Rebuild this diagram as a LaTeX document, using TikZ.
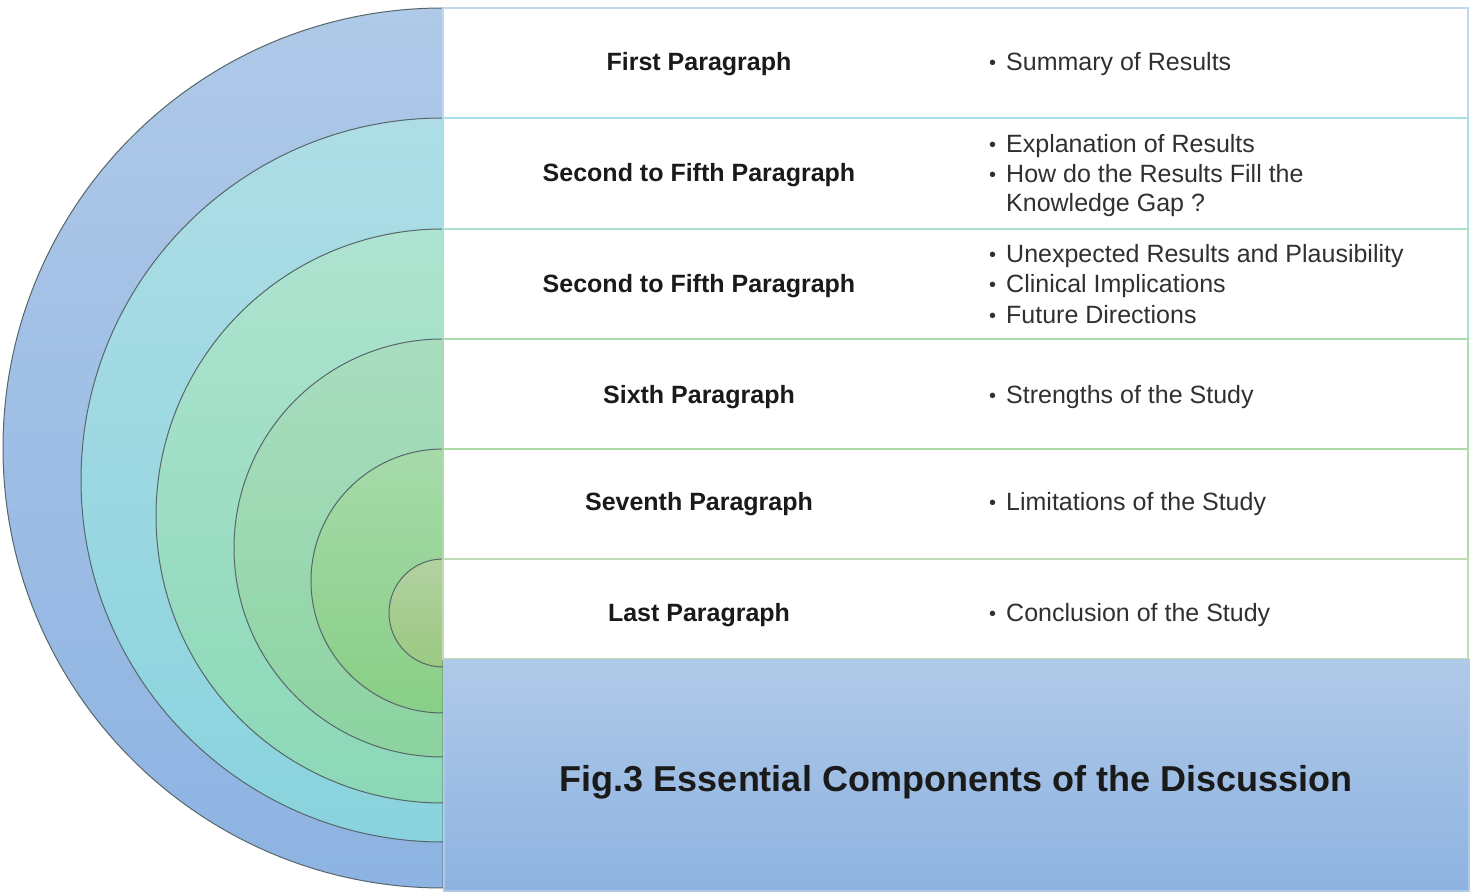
\documentclass[tikz,border=0pt]{standalone}
\usepackage{fontspec}
\setmainfont{Liberation Sans}
\definecolor{ringAa}{HTML}{AFC9E8}
\definecolor{ringAb}{HTML}{8DB3E2}
\definecolor{ringBa}{HTML}{AEDDE5}
\definecolor{ringBb}{HTML}{89D3DE}
\definecolor{ringCa}{HTML}{AEE3D0}
\definecolor{ringCb}{HTML}{8BD8B7}
\definecolor{ringDa}{HTML}{A9DDC0}
\definecolor{ringDb}{HTML}{8CD3A0}
\definecolor{ringEa}{HTML}{A6DAA9}
\definecolor{ringEb}{HTML}{88CF86}
\definecolor{ringFa}{HTML}{B3D1A2}
\definecolor{ringFb}{HTML}{9BC981}
\definecolor{ringline}{HTML}{56666A}
\definecolor{rowA}{HTML}{C3D7EF}
\definecolor{rowB}{HTML}{A9DFE6}
\definecolor{rowC}{HTML}{A8E2C8}
\definecolor{rowD}{HTML}{A6DCB0}
\definecolor{rowE}{HTML}{AEDCA8}
\definecolor{rowF}{HTML}{C2DDB3}
\definecolor{capA}{HTML}{AFC9E8}
\definecolor{capB}{HTML}{8EB3E0}
\definecolor{labtext}{HTML}{1A1A1A}
\definecolor{itemtext}{HTML}{303030}
\newcommand{\bul}{\makebox[17pt][l]{\raisebox{1pt}{\scalebox{0.8}{\textbullet}}}}
\newcommand{\bulgap}{\hspace*{17pt}}
\begin{document}
\begin{tikzpicture}[x=1pt,y=1pt,
  ring/.style={draw=ringline, line width=1pt},
  rowbox/.style={draw=#1, line width=2pt, fill=white, anchor=north west,
    minimum width=1025pt, inner sep=0pt, outer sep=0pt},
  labelnode/.style={font=\fontsize{25}{29}\selectfont\bfseries, text=labtext, inner sep=0pt},
  itemnode/.style={font=\fontsize{25}{29.5}\selectfont, text=itemtext, align=left,
    anchor=west, inner sep=0pt},
  capbox/.style={draw=capA, line width=1.5pt, top color=capA, bottom color=capB,
    anchor=north west, minimum width=1025pt, minimum height=231pt, inner sep=0pt},
  captext/.style={font=\fontsize{36}{40}\selectfont\bfseries, text=labtext, inner sep=0pt}]
\useasboundingbox (0,0) rectangle (1470,892);
% rings (half discs)
\shade[ring, top color=ringAa, bottom color=ringAb] (443,884) arc[start angle=90, end angle=270, radius=440] -- cycle;
\shade[ring, top color=ringBa, bottom color=ringBb] (443,774) arc[start angle=90, end angle=270, radius=362] -- cycle;
\shade[ring, top color=ringCa, bottom color=ringCb] (443,663) arc[start angle=90, end angle=270, radius=287] -- cycle;
\shade[ring, top color=ringDa, bottom color=ringDb] (443,553) arc[start angle=90, end angle=270, radius=209] -- cycle;
\shade[ring, top color=ringEa, bottom color=ringEb] (443,443) arc[start angle=90, end angle=270, radius=132] -- cycle;
\shade[ring, top color=ringFa, bottom color=ringFb] (443,333) arc[start angle=90, end angle=270, radius=54] -- cycle;
% rows
\node[rowbox=rowA, minimum height=110pt] (row1) at (443,884) {};
\node[rowbox=rowB, minimum height=111pt] (row2) at (443,774) {};
\node[rowbox=rowC, minimum height=110pt] (row3) at (443,663) {};
\node[rowbox=rowD, minimum height=110pt] (row4) at (443,553) {};
\node[rowbox=rowE, minimum height=110pt] (row5) at (443,443) {};
\node[rowbox=rowF, minimum height=100pt] (row6) at (443,333) {};
% caption box
\node[capbox] (cap) at (443,233) {};
\node[captext] (captxt) at (956,110) {Fig.3 Essential Components of the Discussion};
% labels
\node[labelnode] (lab1) at (699,828) {First Paragraph};
\node[labelnode] (lab2) at (699,717) {Second to Fifth Paragraph};
\node[labelnode] (lab3) at (699,606) {Second to Fifth Paragraph};
\node[labelnode] (lab4) at (699,495) {Sixth Paragraph};
\node[labelnode] (lab5) at (699,388) {Seventh Paragraph};
\node[labelnode] (lab6) at (699,277) {Last Paragraph};
% items
\node[itemnode] (it1) at (989,828) {\bul Summary of Results};
\node[itemnode] (it2) at (989,716) {\bul Explanation of Results\\ \bul How do the Results Fill the\\ \bulgap Knowledge Gap ?};
\node[itemnode, font=\fontsize{25}{30.5}\selectfont] (it3) at (989,608) {\bul Unexpected Results and Plausibility\\ \bul Clinical Implications\\ \bul Future Directions};
\node[itemnode] (it4) at (989,495) {\bul Strengths of the Study};
\node[itemnode] (it5) at (989,388) {\bul Limitations of the Study};
\node[itemnode] (it6) at (989,277) {\bul Conclusion of the Study};
\end{tikzpicture}
\end{document}
